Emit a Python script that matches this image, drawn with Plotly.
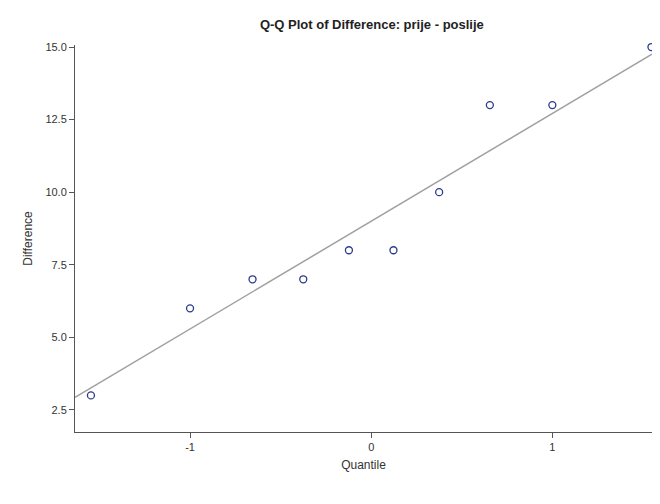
import plotly.graph_objects as go
import numpy as np

quantile = [-1.547, -1.000, -0.655, -0.375, -0.123, 0.123, 0.375, 0.655, 1.000, 1.547]
difference = [3, 6, 7, 7, 8, 8, 10, 13, 13, 15]

mu = float(np.mean(difference))
sd = float(np.std(difference, ddof=1))
xr = [-1.635, 1.55]

fig = go.Figure()
fig.add_trace(go.Scatter(x=xr, y=[mu + sd * v for v in xr], mode="lines",
                         line=dict(color="#a0a0a0", width=1.5), hoverinfo="skip"))
fig.add_trace(go.Scatter(x=quantile, y=difference, mode="markers", cliponaxis=False,
                         marker=dict(symbol="circle-open", size=7, color="#2b3a8c", line=dict(width=1.3))))
axis = dict(showline=True, linecolor="#555", linewidth=1, ticks="outside", ticklen=5,
            tickcolor="#555", showgrid=False, zeroline=False, mirror=False,
            tickfont=dict(size=11, color="#333"), title_font=dict(size=12, color="#333"))
fig.update_layout(
    width=644, height=488, showlegend=False, plot_bgcolor="white", paper_bgcolor="white",
    font=dict(family="Liberation Sans, Arial", color="#333"),
    margin=dict(l=67, r=0, t=37, b=64, autoexpand=False),
    title=dict(text="<b>Q-Q Plot of Difference: prije - poslije</b>", x=0.565, xanchor="center",
               y=0.975, font=dict(size=13, color="#222")),
    xaxis=dict(axis, range=xr, tickvals=[-1, 0, 1], ticktext=["-1", "0", "1"],
               title=dict(text="Quantile", standoff=8)),
    yaxis=dict(axis, range=[1.74, 15.07], tickvals=[2.5, 5, 7.5, 10, 12.5, 15],
               tickformat=".1f", title=dict(text="Difference", standoff=10)),
)
fig.write_html("out.html")
